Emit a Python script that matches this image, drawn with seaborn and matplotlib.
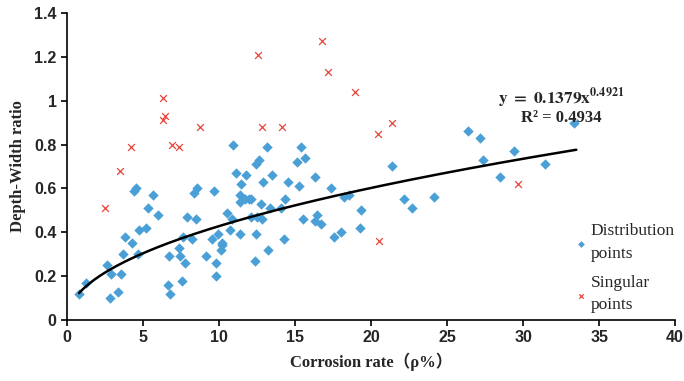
import numpy as np
import pandas as pd
import seaborn as sns
import matplotlib
matplotlib.use("Agg")
import matplotlib.pyplot as plt

# distribution points (corrosion rate %, depth-width ratio)
dist_x = [0.79, 1.27, 2.66, 2.86, 2.81, 3.38, 3.53, 3.66, 3.82, 4.30, 4.67, 4.39, 4.56,
          4.74, 5.18, 5.31, 5.66, 5.97, 6.69, 6.65, 6.76, 7.39, 7.41, 7.59, 7.79, 7.63,
          7.92, 8.22, 8.32, 8.58, 8.51, 9.13, 9.52, 9.65, 9.80, 9.80, 9.91, 10.20, 10.22,
          10.13, 10.55, 10.72, 10.86, 10.90, 11.12, 11.38, 11.45, 11.36, 11.38, 11.69,
          11.76, 11.95, 12.13, 12.09, 12.37, 12.43, 12.41, 12.63, 12.50, 12.76, 12.81,
          12.88, 13.18, 13.25, 13.34, 13.49, 14.08, 14.28, 14.37, 14.52, 15.11, 15.24,
          15.42, 15.49, 15.66, 16.32, 16.32, 16.45, 16.69, 17.37, 17.59, 18.01, 18.23,
          18.58, 19.26, 19.34, 21.36, 22.15, 22.70, 24.11, 26.38, 27.15, 27.37, 28.47,
          29.41, 31.45, 33.38]
dist_y = [0.12, 0.17, 0.25, 0.21, 0.10, 0.13, 0.21, 0.30, 0.38, 0.35, 0.30, 0.59, 0.60,
          0.41, 0.42, 0.51, 0.57, 0.48, 0.29, 0.16, 0.12, 0.33, 0.29, 0.18, 0.26, 0.38,
          0.47, 0.37, 0.58, 0.60, 0.46, 0.29, 0.37, 0.59, 0.26, 0.20, 0.39, 0.35, 0.34,
          0.32, 0.49, 0.41, 0.46, 0.80, 0.67, 0.39, 0.62, 0.54, 0.57, 0.55,
          0.66, 0.55, 0.55, 0.47, 0.27, 0.39, 0.71, 0.73, 0.47, 0.53, 0.46,
          0.63, 0.79, 0.32, 0.51, 0.66, 0.51, 0.37, 0.55, 0.63, 0.72, 0.61,
          0.79, 0.46, 0.74, 0.65, 0.45, 0.48, 0.44, 0.60, 0.38, 0.40, 0.56,
          0.57, 0.42, 0.50, 0.70, 0.55, 0.51, 0.56, 0.86, 0.83, 0.73, 0.65,
          0.77, 0.71, 0.90]

# singular points
sing_x = [2.48, 3.49, 4.23, 6.34, 6.43, 6.34, 6.91, 7.37, 8.75, 12.57, 12.83, 14.13,
          16.76, 17.15, 18.95, 20.44, 21.38, 20.49, 29.67]
sing_y = [0.51, 0.68, 0.79, 1.01, 0.93, 0.91, 0.80, 0.79, 0.88, 1.21, 0.88, 0.88,
          1.27, 1.13, 1.04, 0.85, 0.90, 0.36, 0.62]

# power trendline y = a * x^b
fit_a, fit_b, fit_r2 = 0.1379, 0.4921, 0.4934

x_ticks = [0, 5, 10, 15, 20, 25, 30, 35, 40]
y_ticks = [0, 0.2, 0.4, 0.6, 0.8, 1.0, 1.2, 1.4]
y_tick_labels = ["0", "0.2", "0.4", "0.6", "0.8", "1", "1.2", "1.4"]

blue = "#4a9fd6"
red = "#e8443a"

sns.set_theme(style="white")
plt.rcParams["font.family"] = ["Liberation Serif", "DejaVu Sans"]
plt.rcParams["mathtext.fontset"] = "stix"

fig = plt.figure(figsize=(6.84, 3.81), dpi=100)
ax = fig.add_axes([0.098, 0.160, 0.889, 0.806])

df_d = pd.DataFrame({"x": dist_x, "y": dist_y})
df_s = pd.DataFrame({"x": sing_x, "y": sing_y})
sns.scatterplot(data=df_d, x="x", y="y", ax=ax, marker="D", s=28, color=blue,
                edgecolor=blue, linewidth=0, label="Distribution\npoints", zorder=3)
sns.scatterplot(data=df_s, x="x", y="y", ax=ax, marker="x", s=24, color=red,
                linewidth=0.9, label="Singular\npoints", zorder=3)

xs = np.linspace(min(dist_x), 33.5, 200)
sns.lineplot(x=xs, y=fit_a * xs ** fit_b, ax=ax, color="black", linewidth=1.8,
             zorder=4, legend=False)

eq = r"$\mathbf{y\ =\ %.4fx}^{\mathbf{%.4f}}$" % (fit_a, fit_b)
ax.text(32.5, 1.01, eq, ha="center", va="center", fontsize=12.5, zorder=5)
ax.text(32.5, 0.92, "R² = %.4f" % fit_r2, ha="center", va="center", fontsize=12,
        fontweight="bold", zorder=5)

ax.set_xlim(0, 40)
ax.set_ylim(0, 1.4)
tick_font = dict(family=["Liberation Sans", "DejaVu Sans"], fontweight="bold", fontsize=11.5)
ax.set_xticks(x_ticks)
ax.set_xticklabels([str(t) for t in x_ticks], **tick_font)
ax.set_yticks(y_ticks)
ax.set_yticklabels(y_tick_labels, **tick_font)

for s in ["top", "right"]:
    ax.spines[s].set_visible(False)
for s in ["left", "bottom"]:
    ax.spines[s].set_color("black")
    ax.spines[s].set_linewidth(1.2)
ax.tick_params(axis="both", direction="out", length=4, width=1.2, color="black",
               left=True, bottom=True, pad=3.5)

ax.set_xlabel("Corrosion rate（ρ%）", fontsize=12, fontweight="bold",
              family=["Liberation Serif", "Noto Sans CJK SC"], labelpad=5)
ax.set_ylabel("Depth-Width ratio", fontsize=12, fontweight="bold", labelpad=6)

leg = ax.legend(loc="upper left", bbox_to_anchor=(0.823, 0.338), frameon=False,
                fontsize=12.5, handletextpad=0.15, handlelength=0.8, labelspacing=0.75,
                markerscale=0.65, borderaxespad=0)
for t in leg.get_texts():
    t.set_linespacing(1.55)

fig.savefig("out.png", dpi=100)
